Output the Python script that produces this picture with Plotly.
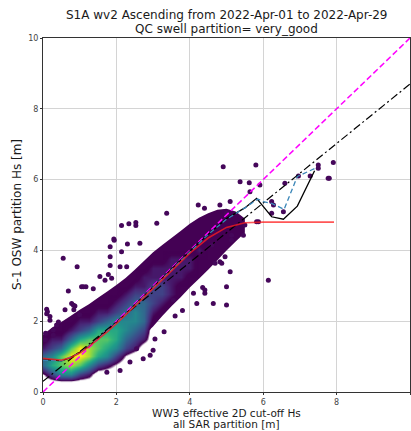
import plotly.graph_objects as go
import numpy as np

# ---------------- data ----------------
# outer (sparse, dark purple) envelope of the point cloud
env_x  = [0.0, 0.25, 0.5, 0.75, 1.0, 1.25, 1.5, 1.75, 2.0, 2.25, 2.5, 2.75, 3.0,
          3.25, 3.5, 3.75, 4.0, 4.25, 4.5, 4.75, 5.0, 5.25, 5.5]
env_lo = [0.50, 0.42, 0.38, 0.40, 0.45, 0.52, 0.62, 0.75, 0.92, 1.12, 1.35, 1.60,
          1.85, 2.15, 2.42, 2.68, 2.95, 3.20, 3.45, 3.72, 4.00, 4.25, 4.50]
env_hi = [1.62, 1.82, 1.98, 2.15, 2.32, 2.48, 2.66, 2.84, 3.02, 3.22, 3.45, 3.70,
          3.95, 4.15, 4.35, 4.55, 4.75, 4.92, 5.05, 5.15, 5.18, 5.10, 4.90]

# density levels inside the cloud (0/1 = sparse ... 9 = densest)
grid_x = [0.0, 0.25, 0.5, 0.75, 1.0, 1.25, 1.5, 1.75, 2.0, 2.25, 2.5, 2.75, 3.0,
          3.25, 3.5, 3.75, 4.0, 4.25, 4.5, 4.75, 5.0, 5.25, 5.5, 5.75, 6.0]
grid_y = [0.0, 0.25, 0.5, 0.75, 1.0, 1.25, 1.5, 1.75, 2.0, 2.25, 2.5, 2.75, 3.0,
          3.25, 3.5, 3.75, 4.0, 4.25, 4.5, 4.75, 5.0, 5.25, 5.5, 5.75, 6.0]
# one string per x column, characters run along grid_y
density_columns = [
    "0014421000000000000000000",  # x=0.00
    "0036532100000000000000000",  # x=0.25
    "0057742110000000000000000",  # x=0.50
    "0058974210000000000000000",  # x=0.75
    "0037996321000000000000000",  # x=1.00
    "0025887421100000000000000",  # x=1.25
    "0003677632100000000000000",  # x=1.50
    "0002567642110000000000000",  # x=1.75
    "0001356653211000000000000",  # x=2.00
    "0000134554321000000000000",  # x=2.25
    "0000023455432110000000000",  # x=2.50
    "0000002344432210000000000",  # x=2.75
    "0000000012333221100000000",  # x=3.00
    "0000000001233221100000000",  # x=3.25
    "0000000000122222110000000",  # x=3.50
    "0000000000011222111000000",  # x=3.75
    "0000000000001122111100000",  # x=4.00
    "0000000000000111211110000",  # x=4.25
    "0000000000000011111110000",  # x=4.50
    "0000000000000001111110000",  # x=4.75
    "0000000000000000111100000",  # x=5.00
    "0000000000000000011000000",  # x=5.25
    "0000000000000000000000000",  # x=5.50
    "0000000000000000000000000",  # x=5.75
    "0000000000000000000000000",  # x=6.00
]

# isolated (sparse) scatter points
pts_x = [0.55, 0.93, 1.93, 2.14, 2.34, 2.53, 2.53, 1.83, 1.83, 1.83, 2.14, 2.30, 2.64,
         1.55, 1.69, 1.87, 1.78, 2.10, 2.28, 0.69, 0.10, 0.12, 0.19, 0.19, 0.07, 0.07,
         0.28, 0.37, 0.60, 0.78, 0.87, 1.05, 1.17, 0.84, 1.00, 1.94, 1.10, 1.37, 0.83,
         0.10, 0.42, 0.28, 2.37, 2.73, 3.00, 2.92, 2.10, 1.74, 2.55, 3.10, 3.37, 4.23,
         4.40, 4.82, 5.00, 5.10, 3.55, 4.10, 4.19, 4.64, 5.00, 5.00, 4.82, 5.10, 6.14,
         4.41, 4.41, 4.69, 4.87, 4.96, 5.14, 5.14, 5.46, 5.87, 5.50, 4.60, 5.80, 5.37,
         5.62, 5.91, 5.64, 6.59, 6.96, 7.28, 7.50, 7.50, 7.80, 6.23, 6.28, 6.55, 5.82,
         6.23, 4.91, 7.91, 7.77, 3.30, 3.80, 4.35, 3.05, 3.60]
pts_y = [3.78, 3.54, 4.32, 4.70, 4.75, 4.79, 4.70, 4.10, 3.82, 3.57, 3.96, 4.18, 4.20,
         3.26, 3.16, 3.21, 3.32, 3.54, 3.54, 2.85, 2.34, 2.27, 2.13, 2.03, 1.66, 1.47,
         1.75, 1.89, 2.32, 2.50, 2.43, 2.97, 2.97, 2.32, 2.18, 4.29, 2.97, 2.92, 2.45,
         2.21, 1.98, 1.60, 0.85, 0.94, 1.18, 1.04, 0.61, 0.56, 1.22, 4.77, 5.05, 5.28,
         5.19, 5.28, 5.05, 5.38, 2.60, 2.79, 2.50, 2.50, 2.46, 2.97, 3.68, 3.40, 3.16,
         2.88, 2.79, 3.64, 3.64, 3.82, 4.29, 4.43, 4.43, 4.81, 4.72, 4.15, 6.41, 5.94,
         5.91, 5.85, 5.66, 5.90, 6.10, 6.10, 6.41, 6.32, 6.04, 5.38, 5.28, 5.09, 4.81,
         5.05, 6.36, 6.48, 6.04, 1.70, 2.30, 2.95, 1.50, 2.15]

# reference lines
diag_x = [0, 10]
diag_y = [0, 10]
fit_x = [0, 10]
fit_y = [0.30, 8.70]
red_x = [0.0, 0.25, 0.5, 0.75, 1.0, 1.25, 1.5, 1.75, 2.0, 2.5, 3.0, 3.5, 4.0, 4.5,
         5.0, 5.5, 6.0, 7.0, 7.93]
red_y = [0.95, 0.93, 0.90, 0.97, 1.10, 1.28, 1.48, 1.70, 1.93, 2.42, 2.92, 3.42,
         3.92, 4.35, 4.65, 4.78, 4.80, 4.80, 4.80]
blk_x = [0.0, 0.25, 0.5, 0.75, 1.0, 1.25, 1.5, 2.0, 2.5, 3.0, 3.5, 4.0, 4.5, 5.0,
         5.5, 5.82, 6.23, 6.55, 6.93, 7.40]
blk_y = [0.93, 0.90, 0.88, 0.97, 1.12, 1.30, 1.52, 1.96, 2.46, 2.96, 3.47, 3.98,
         4.45, 4.90, 5.20, 5.47, 4.95, 4.88, 5.25, 6.25]
blu_x = [0.0, 0.5, 1.0, 1.5, 2.0, 2.5, 3.0, 3.5, 4.0, 4.5, 5.0, 5.5, 5.85, 6.0,
         6.23, 6.57, 6.93, 7.40]
blu_y = [0.90, 0.88, 1.10, 1.50, 1.95, 2.45, 2.95, 3.45, 3.95, 4.45, 4.88, 5.20,
         5.45, 5.38, 5.33, 5.16, 6.09, 6.31]

tick_vals = [0, 2, 4, 6, 8, 10]
title_l1 = "S1A wv2 Ascending from 2022-Apr-01 to 2022-Apr-29"
title_l2 = "QC swell partition= very_good"
xlab_l1 = "WW3 effective 2D cut-off Hs"
xlab_l2 = "all SAR partition [m]"
ylab = "S-1 OSW partition Hs [m]"

# ---------------- figure ----------------
PURPLE = '#440154'
z = np.array([[int(c) for c in col] for col in density_columns], dtype=float).T

viridis = ['#440154', '#482878', '#3e4989', '#31688e', '#26828e',
           '#1f9e89', '#35b779', '#6ece58', '#b5de2b', '#fde725']
lo_t = 1.0 / 9.0
hi_t = 1.5 / 9.0
cscale = [[0.0, 'rgba(68,1,84,0)'], [lo_t, 'rgba(68,1,84,0)']]
for i, c in enumerate(viridis):
    cscale.append([hi_t + (1 - hi_t) * i / (len(viridis) - 1), c])

# envelope drawn as a shape between gridlines and traces (so the heatmap sits on top)
poly_x = env_x + env_x[::-1]
poly_y = env_lo + env_hi[::-1]
env_path = "M " + " L ".join(f"{a},{b}" for a, b in zip(poly_x, poly_y)) + " Z"

FONT = "DejaVu Sans"
fig = go.Figure()
fig.add_trace(go.Heatmap(x=grid_x, y=grid_y, z=z, zmin=0, zmax=9, zsmooth='best',
                         colorscale=cscale, showscale=False, hoverinfo='skip'))
fig.add_trace(go.Scatter(x=pts_x, y=pts_y, mode='markers',
                         marker=dict(size=5, color='#45075a', line=dict(width=0))))
fig.add_trace(go.Scatter(x=diag_x, y=diag_y, mode='lines',
                         line=dict(color='#ff00ff', width=1.5, dash='6px,3px')))
fig.add_trace(go.Scatter(x=fit_x, y=fit_y, mode='lines',
                         line=dict(color='black', width=1.2, dash='8px,3px,2px,3px')))
fig.add_trace(go.Scatter(x=blk_x, y=blk_y, mode='lines',
                         line=dict(color='black', width=1.3)))
fig.add_trace(go.Scatter(x=blu_x, y=blu_y, mode='lines',
                         line=dict(color='#3a86b8', width=1.3, dash='5px,3px')))
fig.add_trace(go.Scatter(x=red_x, y=red_y, mode='lines',
                         line=dict(color='rgba(255,30,30,0.75)', width=1.6)))

fig.add_shape(type='path', path=env_path, xref='x', yref='y', layer='between',
              fillcolor=PURPLE, line=dict(width=0))

axis_common = dict(range=[0, 10], tickvals=tick_vals, showgrid=True,
                   gridcolor='#d4d4d4', gridwidth=1, zeroline=False,
                   showline=True, linecolor='#333333', linewidth=1, mirror=True,
                   ticks='outside', ticklen=2, tickcolor='#333333',
                   tickfont=dict(family=FONT, size=8, color='#444444'))
fig.update_xaxes(**axis_common)
fig.update_yaxes(**axis_common)

ann = []
def add_text(text, x, y, size=10.5, angle=0):
    ann.append(dict(text=text, x=x, y=y, xref='paper', yref='paper',
                    xanchor='center', yanchor='middle', showarrow=False,
                    textangle=angle, font=dict(family=FONT, size=size, color='#1a1a1a')))

add_text(title_l1, 0.5, (392 - 15) / 354, size=12)
add_text(title_l2, 0.5, (392 - 29) / 354, size=12)
add_text(xlab_l1, 0.5, (392 - 413.5) / 354)
add_text(xlab_l2, 0.5, (392 - 424.5) / 354)
add_text(ylab, (17 - 43) / 367, 0.5, angle=-90, size=12)

fig.update_layout(width=411, height=431, showlegend=False,
                  margin=dict(l=43, r=1, t=38, b=39),
                  plot_bgcolor='white', paper_bgcolor='white',
                  font=dict(family=FONT), annotations=ann)

fig.write_html("out.html")
